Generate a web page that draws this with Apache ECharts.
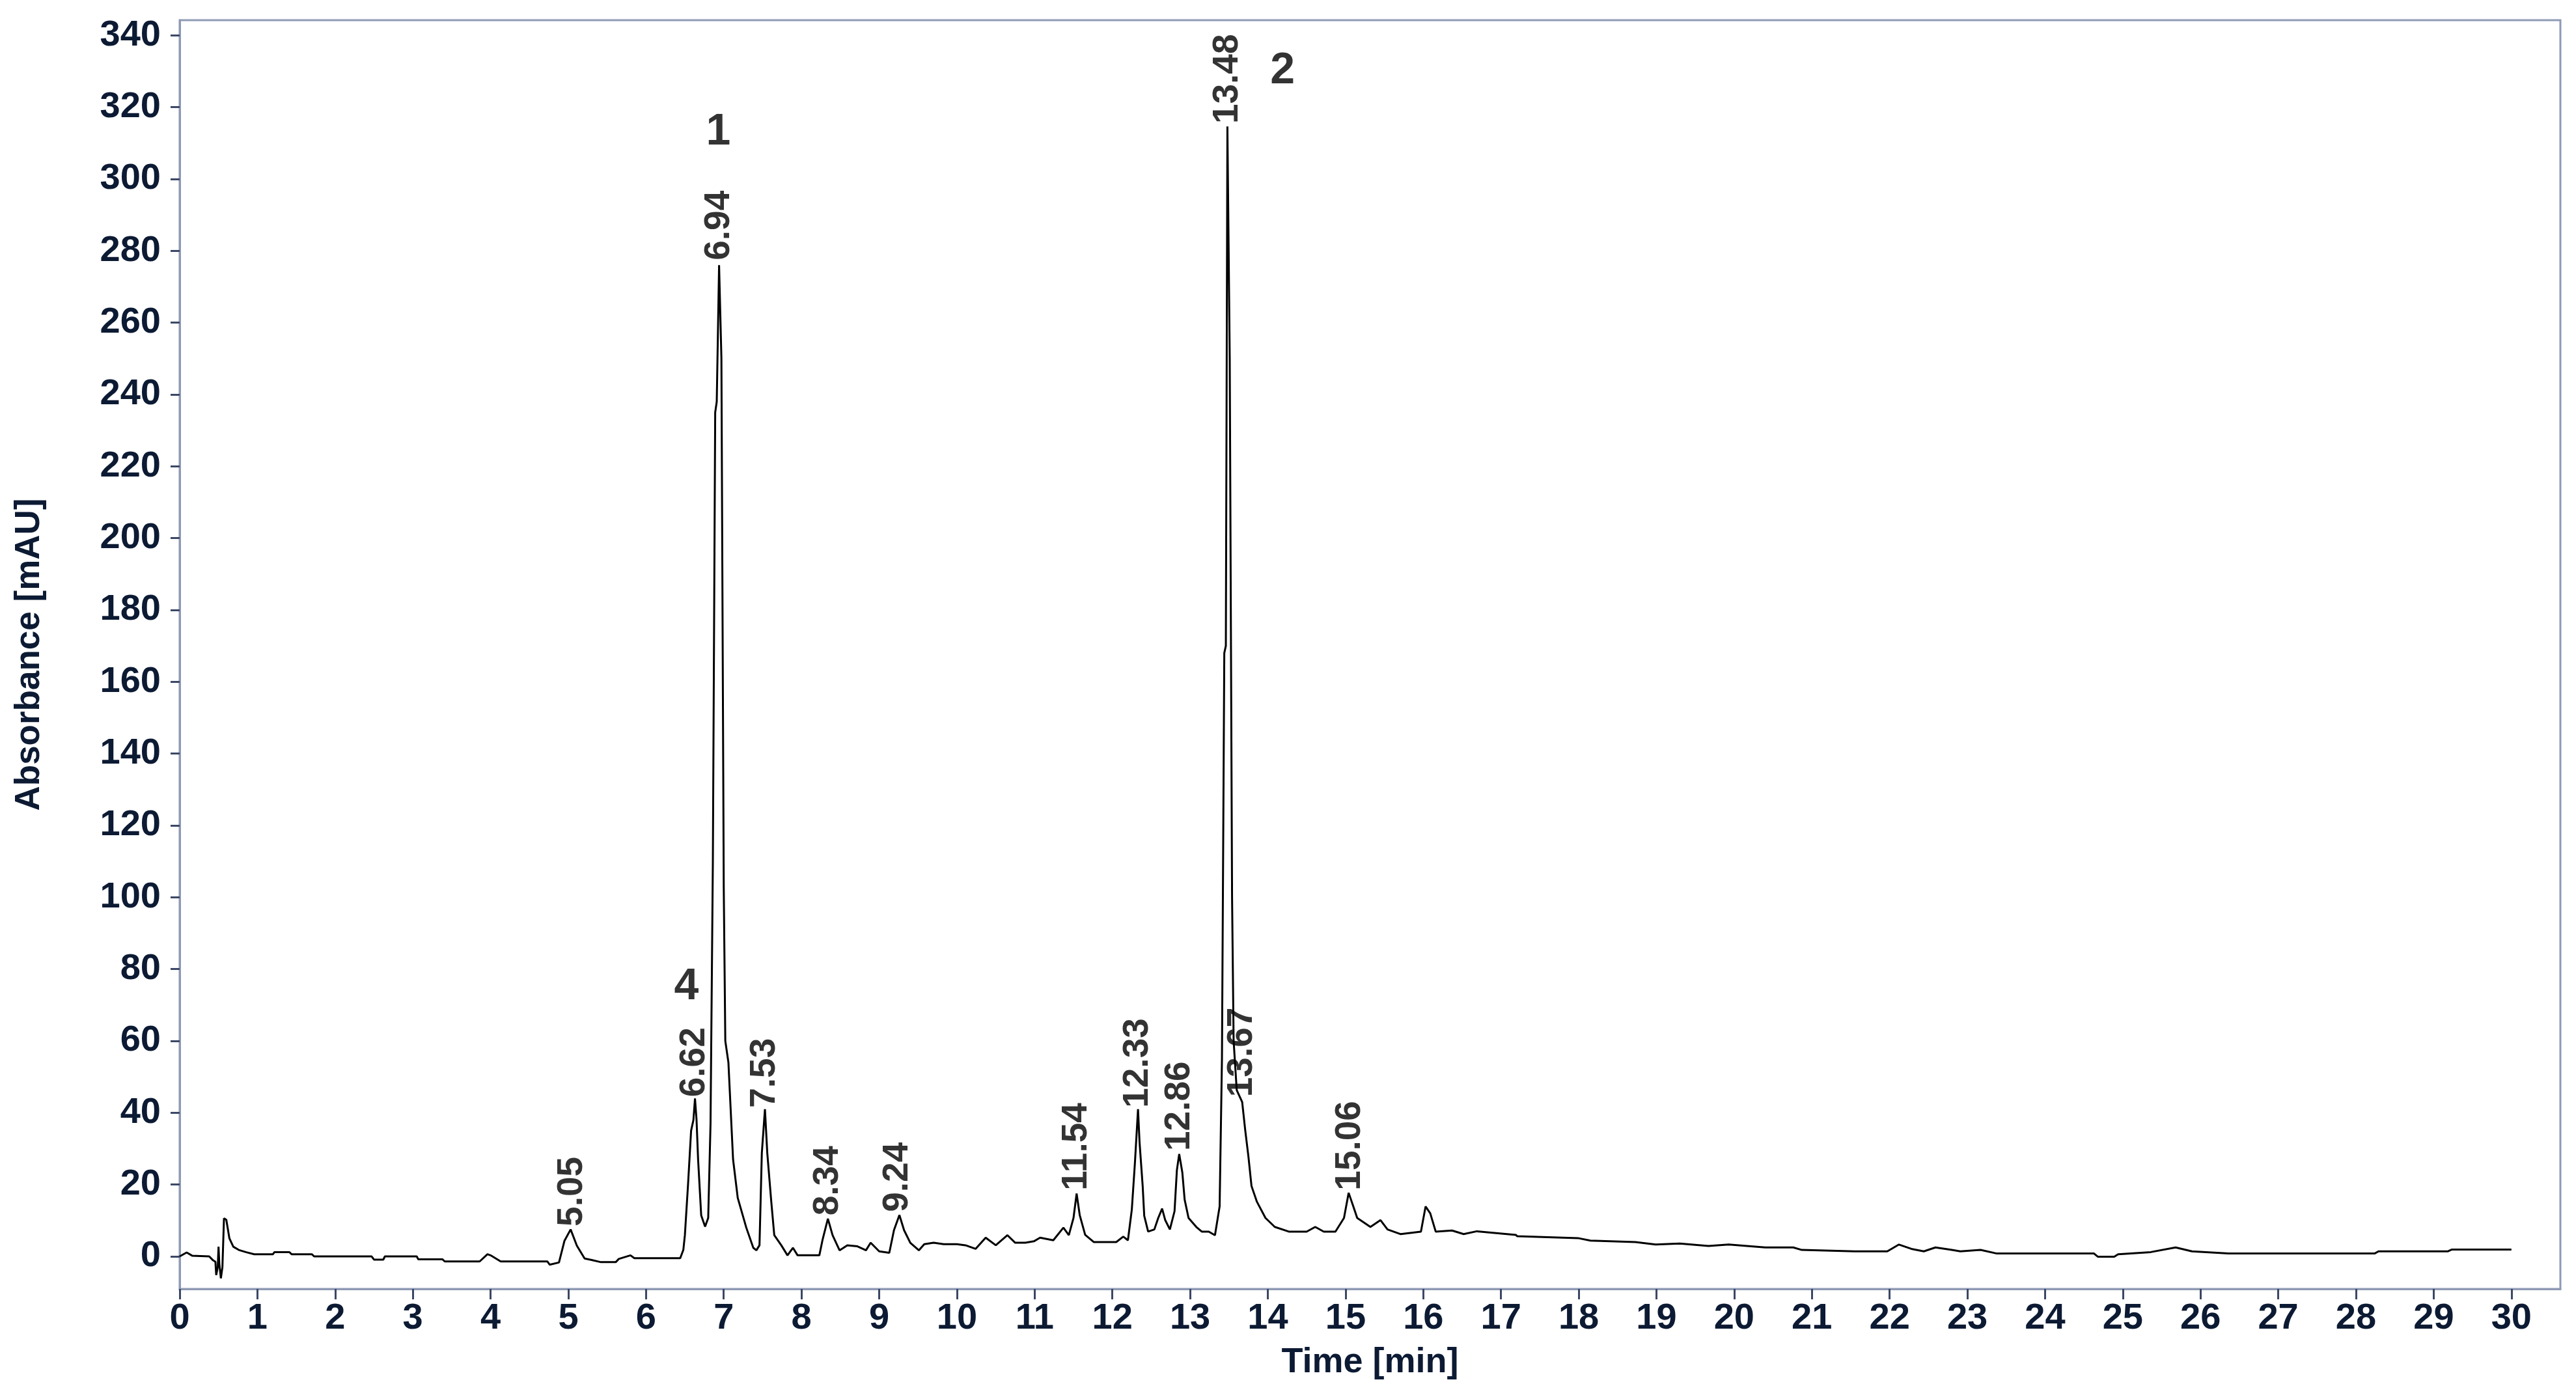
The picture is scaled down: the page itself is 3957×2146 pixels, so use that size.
<!DOCTYPE html>
<html>
<head>
<meta charset="utf-8">
<script src="https://cdn.jsdelivr.net/npm/echarts@6/dist/echarts.min.js"></script>
<style>
  html, body { margin: 0; padding: 0; background: #ffffff; }
  #chart { width: 3957px; height: 2146px; }
</style>
</head>
<body>
<div id="chart"></div>
<script>
// ---- Data ----
const timeMin = [
  0.00, 0.09, 0.16, 0.38, 0.43, 0.46, 0.47, 0.49, 0.50, 0.51, 0.53, 0.55, 0.57, 0.60, 0.64, 0.69, 0.76, 0.85, 0.96,
  1.20, 1.22, 1.41, 1.44, 1.70, 1.73, 2.47, 2.50, 2.62, 2.64, 3.05, 3.07, 3.38, 3.41, 3.86, 3.96, 4.01, 4.13, 4.73,
  4.76, 4.88, 4.95, 5.03, 5.11, 5.21, 5.30, 5.42, 5.61, 5.65, 5.80, 5.85, 6.44, 6.48, 6.50, 6.54, 6.58, 6.61, 6.63,
  6.65, 6.67, 6.71, 6.76, 6.80, 6.83, 6.86, 6.89, 6.91, 6.94, 6.97, 7.00, 7.02, 7.06, 7.12, 7.18, 7.29, 7.38, 7.42,
  7.46, 7.49, 7.53, 7.56, 7.61, 7.65, 7.74, 7.82, 7.89, 7.95, 8.23, 8.27, 8.34, 8.40, 8.49, 8.59, 8.72, 8.83, 8.89,
  9.00, 9.13, 9.19, 9.26, 9.32, 9.40, 9.51, 9.58, 9.70, 9.83, 10.00, 10.11, 10.24, 10.37, 10.50, 10.65, 10.75, 10.88,
  10.99, 11.07, 11.24, 11.37, 11.44, 11.50, 11.54, 11.58, 11.65, 11.76, 12.05, 12.14, 12.20, 12.25, 12.29, 12.33,
  12.35, 12.39, 12.41, 12.46, 12.54, 12.59, 12.64, 12.68, 12.74, 12.80, 12.83, 12.86, 12.90, 12.93, 12.98, 13.08,
  13.15, 13.24, 13.32, 13.38, 13.41, 13.44, 13.46, 13.48, 13.51, 13.54, 13.56, 13.60, 13.67, 13.71, 13.75, 13.79,
  13.86, 13.97, 14.09, 14.27, 14.50, 14.61, 14.72, 14.87, 14.98, 15.04, 15.10, 15.15, 15.32, 15.45, 15.54, 15.71,
  15.97, 16.03, 16.09, 16.16, 16.37, 16.52, 16.69, 17.19, 17.21, 17.99, 18.15, 18.73, 18.99, 19.30, 19.67, 19.93,
  20.40, 20.76, 20.87, 21.55, 21.97, 22.12, 22.28, 22.44, 22.59, 22.80, 22.91, 23.17, 23.38, 24.63, 24.68, 24.89,
  24.94, 25.36, 25.68, 25.89, 26.36, 28.24, 28.29, 29.18, 29.23, 30.00
];
const absorbance = [
  0, 1.1, 0.2, 0, -1.1, -1.5, -5.2, -3, 2.7, -2, -6.1, -3, 10.6, 10.2, 5, 2.7, 1.8, 1.2, 0.6,
  0.6, 1.2, 1.2, 0.6, 0.6, 0, 0, -0.9, -0.9, 0, 0, -0.8, -0.8, -1.4, -1.4, 0.6, 0.2, -1.4, -1.4,
  -2.3, -1.7, 4.3, 7.5, 3, -0.6, -1.0, -1.6, -1.6, -0.7, 0.3, -0.5, -0.5, 1.8, 5.9, 19.8, 35, 38, 44,
  38, 27, 11.4, 8.3, 10.7, 37, 110, 235, 238, 276, 250, 103, 60, 54, 27, 16.3, 8, 2.4, 1.7,
  3.1, 28.8, 41, 28.8, 15.6, 5.9, 3.1, 0.3, 2.4, 0.3, 0.3, 4.5, 10.5, 5.9, 1.7, 3.1, 2.8, 1.7, 3.8,
  1.4, 1.0, 7.3, 11.5, 7.3, 3.8, 1.7, 3.4, 3.8, 3.4, 3.4, 3.1, 2.1, 5.2, 3.1, 5.9, 3.8, 3.8,
  4.2, 5.2, 4.5, 8, 5.9, 10.7, 17.5, 11.5, 6, 4, 4, 5.5, 4.5, 13, 26, 41,
  31.7, 19.6, 11.3, 6.9, 7.5, 10.7, 13.3, 10.1, 7.5, 12.6, 24, 28.5, 23.4, 15.8, 10.7, 8.2,
  6.9, 6.9, 5.9, 13.9, 55, 168, 170, 314.6, 250, 100, 60, 46.3, 43, 35, 27.9, 19.6,
  15.2, 10.7, 8.2, 6.9, 6.9, 8.2, 6.9, 6.9, 10.7, 17.7, 13.9, 10.7, 8.2, 10.1, 7.5, 6.2,
  6.9, 13.9, 12, 6.9, 7.2, 6.2, 7.0, 6.0, 5.6, 5.1, 4.4, 4.0, 3.3, 3.6, 2.9, 3.3,
  2.5, 2.5, 1.8, 1.4, 1.4, 3.3, 2.1, 1.4, 2.5, 1.8, 1.4, 1.8, 0.8, 0.8, -0.1, -0.1,
  0.6, 1.2, 2.5, 1.4, 0.8, 0.8, 1.4, 1.4, 1.9, 1.9
];

// Retention-time peak labels
const peakLabels = ['5.05', '6.62', '6.94', '7.53', '8.34', '9.24', '11.54', '12.33', '12.86', '13.48', '13.67', '15.06'];
const peakTimes  = [5.05, 6.62, 6.94, 7.53, 8.34, 9.24, 11.54, 12.33, 12.86, 13.48, 13.67, 15.06];
const peakHeights = [8, 44, 277, 41, 11, 12, 18, 41, 29, 315, 44, 18];

// Compound numbers
const compoundLabels = ['1', '2', '4'];
const compoundTimes  = [6.93, 14.19, 6.52];
const compoundValues = [313, 330, 75];

// Axis ticks
const xTicks = [0,1,2,3,4,5,6,7,8,9,10,11,12,13,14,15,16,17,18,19,20,21,22,23,24,25,26,27,28,29,30];
const yTicks = [0,20,40,60,80,100,120,140,160,180,200,220,240,260,280,300,320,340];

// ---- Chart ----
const axisColor = '#8f9ab4';
const labelColor = '#0c1a33';
const fontFam = '"Liberation Sans", Arial, sans-serif';

const chart = echarts.init(document.getElementById('chart'), null, { renderer: 'canvas' });

const lineData = timeMin.map((t, i) => [t, absorbance[i]]);
const peakData = peakTimes.map((t, i) => ({ value: [t, peakHeights[i]], name: peakLabels[i] }));
const compData = compoundTimes.map((t, i) => ({ value: [t, compoundValues[i]], name: compoundLabels[i] }));

chart.setOption({
  animation: false,
  backgroundColor: '#ffffff',
  grid: {
    left: 276, right: 24, top: 31, bottom: 166,
    show: true, borderColor: axisColor, borderWidth: 3, backgroundColor: 'transparent'
  },
  xAxis: {
    type: 'value',
    min: 0, max: 30.63,
    name: 'Time [min]',
    nameLocation: 'middle',
    nameGap: 86,
    nameTextStyle: { fontFamily: fontFam, fontWeight: 'bold', fontSize: 54, color: labelColor },
    axisLine: { show: true, onZero: false, lineStyle: { color: axisColor, width: 3 } },
    axisTick: { show: true, length: 16, customValues: xTicks, lineStyle: { color: '#3b4866', width: 3 } },
    axisLabel: {
      customValues: xTicks, margin: 18,
      fontFamily: fontFam, fontWeight: 'bold', fontSize: 56, color: labelColor
    },
    splitLine: { show: false }
  },
  yAxis: {
    type: 'value',
    min: -9.06, max: 344.2,
    name: 'Absorbance [mAU]',
    nameLocation: 'middle',
    nameGap: 204,
    nameTextStyle: { fontFamily: fontFam, fontWeight: 'bold', fontSize: 53, color: labelColor },
    axisLine: { show: true, lineStyle: { color: axisColor, width: 3 } },
    axisTick: { show: true, length: 14, customValues: yTicks, lineStyle: { color: '#3b4866', width: 3 } },
    axisLabel: {
      customValues: yTicks, margin: 29,
      fontFamily: fontFam, fontWeight: 'bold', fontSize: 56, color: labelColor
    },
    splitLine: { show: false }
  },
  series: [
    {
      type: 'line',
      data: lineData,
      showSymbol: false,
      symbol: 'none',
      lineStyle: { color: '#000000', width: 3 },
      z: 3
    },
    {
      type: 'scatter',
      data: peakData,
      symbolSize: 0,
      label: {
        show: true,
        formatter: p => p.name,
        position: 'top',
        rotate: 90,
        align: 'left',
        verticalAlign: 'middle',
        distance: 2,
        fontFamily: fontFam, fontWeight: 'bold', fontSize: 55, color: '#000000'
      },
      z: 4
    },
    {
      type: 'scatter',
      data: compData,
      symbolSize: 0,
      label: {
        show: true,
        formatter: p => p.name,
        position: 'inside',
        fontFamily: fontFam, fontWeight: 'bold', fontSize: 68, color: '#000000'
      },
      z: 4
    }
  ]
});
</script>
</body>
</html>
